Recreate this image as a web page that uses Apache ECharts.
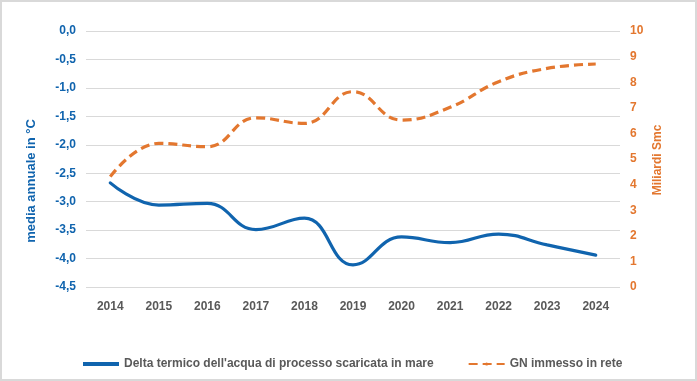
<!DOCTYPE html>
<html>
<head>
<meta charset="utf-8">
<script src="https://cdn.jsdelivr.net/npm/echarts@6/dist/echarts.min.js"></script>
<style>
html,body{margin:0;padding:0;background:#fff;}
#wrap{position:absolute;left:0;top:0;width:697px;height:381px;box-sizing:border-box;border:2px solid #d9d9d9;}
#c{position:absolute;left:0;top:0;width:697px;height:381px;}
</style>
</head>
<body>
<div id="wrap"></div>
<div id="c"></div>
<script>
const years = ['2014','2015','2016','2017','2018','2019','2020','2021','2022','2023','2024'];
const deltaTermico = [-2.67,-3.06,-3.03,-3.49,-3.29,-4.11,-3.62,-3.72,-3.57,-3.76,-3.94];
const gnImmesso = [4.31,5.61,5.48,6.61,6.39,7.63,6.52,7.02,8.02,8.54,8.71];
const nameLeft = 'Delta termico dell\'acqua di processo scaricata in mare';
const nameRight = 'GN immesso in rete';
const axisNameLeft = 'media annuale in °C';
const axisNameRight = 'Miliardi Smc';

const blue = '#1064ae';
const orange = '#e3772f';
const font = 'Liberation Sans, Arial, sans-serif';

const chart = echarts.init(document.getElementById('c'), null, {renderer:'canvas'});
chart.setOption({
  animation:false,
  grid:{left:86,right:77,top:31,bottom:94,containLabel:false},
  graphic:[
    {type:'text',x:31,y:181,rotation:Math.PI/2,
      style:{text:axisNameLeft,fill:blue,font:'bold 13px '+font,align:'center',verticalAlign:'middle'}},
    {type:'text',x:658,y:160,rotation:Math.PI/2,
      style:{text:axisNameRight,fill:orange,font:'bold 12px '+font,align:'center',verticalAlign:'middle'}}
  ],
  legend:{
    bottom:6,left:78,itemGap:34,itemWidth:36,itemHeight:4,
    textStyle:{color:'#595959',fontFamily:font,fontSize:12,fontWeight:'bold'},
    data:[
      {name:nameLeft,icon:'path://M0,0 L36,0 L36,4 L0,4 Z'},
      {name:nameRight}
    ]
  },
  xAxis:{
    type:'category',data:years,boundaryGap:true,
    axisLine:{show:false},axisTick:{show:false},
    axisLabel:{color:'#595959',fontFamily:font,fontSize:12,fontWeight:'bold',margin:14}
  },
  yAxis:[
    {
      type:'value',min:-4.5,max:0,interval:0.5,position:'left',
      axisLine:{show:false},axisTick:{show:false},
      axisLabel:{color:blue,fontFamily:font,fontSize:12,fontWeight:'bold',margin:10,
        formatter:v=>v.toFixed(1).replace('.',',')},
      splitLine:{lineStyle:{color:'#d9d9d9',width:1}}
    },
    {
      type:'value',min:0,max:10,interval:1,position:'right',
      axisLine:{show:false},axisTick:{show:false},
      axisLabel:{color:orange,fontFamily:font,fontSize:12,fontWeight:'bold',margin:10},
      splitLine:{show:false}
    }
  ],
  series:[
    {
      name:nameLeft,type:'line',yAxisIndex:0,data:deltaTermico,smooth:0.45,
      showSymbol:false,symbol:'none',
      lineStyle:{color:blue,width:3.2,cap:'round'},itemStyle:{color:blue}
    },
    {
      name:nameRight,type:'line',yAxisIndex:1,data:gnImmesso,smooth:0.45,
      showSymbol:false,symbol:'none',
      lineStyle:{color:orange,width:3.2,type:[9,5]},itemStyle:{color:orange}
    }
  ]
});
</script>
</body>
</html>
